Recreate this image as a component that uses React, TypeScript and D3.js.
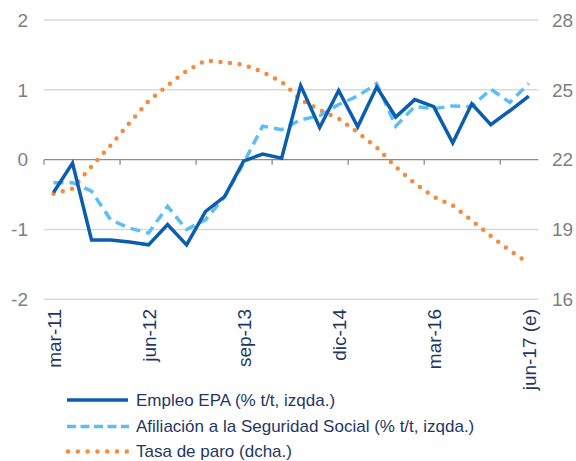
import React from "react";
import * as d3 from "d3";

const categories = [
  "mar-11", "jun-11", "sep-11", "dic-11",
  "mar-12", "jun-12", "sep-12", "dic-12",
  "mar-13", "jun-13", "sep-13", "dic-13",
  "mar-14", "jun-14", "sep-14", "dic-14",
  "mar-15", "jun-15", "sep-15", "dic-15",
  "mar-16", "jun-16", "sep-16", "dic-16",
  "mar-17", "jun-17 (e)",
];
const shownLabels = ["mar-11", "jun-12", "sep-13", "dic-14", "mar-16", "jun-17 (e)"];

const empleoEPA = [
  -0.47, -0.05, -1.15, -1.15, -1.18, -1.22, -0.93, -1.22, -0.74, -0.53,
  -0.02, 0.08, 0.02, 1.06, 0.46, 0.99, 0.47, 1.04, 0.61, 0.86,
  0.76, 0.24, 0.8, 0.5, 0.7, 0.91,
];
const afiliacion = [
  -0.33, -0.33, -0.45, -0.86, -0.98, -1.05, -0.67, -1.0, -0.86, -0.53,
  -0.05, 0.48, 0.43, 0.57, 0.63, 0.79, 0.91, 1.09, 0.48, 0.76,
  0.73, 0.77, 0.76, 1.01, 0.82, 1.09,
];
const tasaParo = [
  20.53, 20.76, 21.71, 22.61, 23.58, 24.52, 25.19, 25.81, 26.26, 26.18,
  26.08, 25.77, 25.34, 24.58, 24.14, 23.76, 23.17, 22.52, 21.69, 20.98,
  20.4, 20.03, 19.39, 18.72, 18.1, 17.54,
];
const leftTicks = [-2, -1, 0, 1, 2];
const rightTicks = [16, 19, 22, 25, 28];
const legendLabels = [
  "Empleo EPA (% t/t, izqda.)",
  "Afiliación a la Seguridad Social (% t/t, izqda.)",
  "Tasa de paro (dcha.)",
];

const W = 576;
const H = 461;
const FONT = "'Liberation Sans', Arial, sans-serif";
const C_EMPLEO = "#0B5DAE";
const C_AFIL = "#5BBEF6";
const C_TASA = "#F58B3C";
const TEXT_NAVY = "#1F3763";
const TEXT_GRAY = "#7F7F7F";

export default function App() {
  const x = d3.scalePoint<string>().domain(categories).range([44, 538.3]).padding(0.5);
  const step = x.step();
  const yL = d3.scaleLinear().domain([-2, 2]).range([299.3, 20]);
  const yR = d3.scaleLinear().domain([16, 28]).range([299.3, 20]);

  const lineL = d3
    .line<number>()
    .x((_, i) => x(categories[i]) as number)
    .y((d) => yL(d));
  const lineR = d3
    .line<number>()
    .x((_, i) => x(categories[i]) as number)
    .y((d) => yR(d));

  const tickIdx = categories.map((_, i) => i).filter((i) => i % 4 === 0);

  const legendY = [400, 426.5, 451.5];

  return (
    <svg
      width={W}
      height={H}
      style={{ position: "absolute", left: 0, top: 0, background: "#fff" }}
      fontFamily={FONT}
    >
      {/* gridlines */}
      {leftTicks
        .filter((t) => t !== 0)
        .map((t) => (
          <line key={t} x1={44} x2={538.3} y1={yL(t)} y2={yL(t)} stroke="#D9D9D9" strokeWidth={1.5} />
        ))}
      {/* zero axis */}
      <line x1={44} x2={538.3} y1={yL(0)} y2={yL(0)} stroke="#8C8C8C" strokeWidth={1.3} />
      {tickIdx.map((i) => {
        const tx = (x(categories[i]) as number) - step / 2;
        return <line key={i} x1={tx} x2={tx} y1={yL(0)} y2={yL(0) + 5} stroke="#8C8C8C" strokeWidth={1.3} />;
      })}

      {/* left ticks */}
      {leftTicks.map((t) => (
        <text key={t} x={28} y={yL(t)} dy="0.36em" textAnchor="end" fontSize={19} fill={TEXT_GRAY}>
          {t}
        </text>
      ))}
      {/* right ticks */}
      {rightTicks.map((t) => (
        <text key={t} x={552} y={yR(t)} dy="0.36em" textAnchor="start" fontSize={19} fill={TEXT_GRAY}>
          {t}
        </text>
      ))}

      {/* x labels */}
      {shownLabels.map((l) => {
        const lx = x(l) as number;
        return (
          <text
            key={l}
            transform={`translate(${lx + 7},309) rotate(-90)`}
            textAnchor="end"
            fontSize={19}
            fill={TEXT_NAVY}
          >
            {l}
          </text>
        );
      })}

      {/* series */}
      <path
        d={lineR(tasaParo) || ""}
        fill="none"
        stroke={C_TASA}
        strokeWidth={4.5}
        strokeDasharray="0 9.6"
        strokeLinecap="round"
      />
      <path
        d={lineL(afiliacion) || ""}
        fill="none"
        stroke={C_AFIL}
        strokeWidth={3.5}
        strokeDasharray="10 6"
      />
      <path
        d={lineL(empleoEPA) || ""}
        fill="none"
        stroke={C_EMPLEO}
        strokeWidth={3.5}
        strokeLinejoin="miter"
      />

      {/* legend */}
      <line x1={67} x2={128} y1={legendY[0]} y2={legendY[0]} stroke={C_EMPLEO} strokeWidth={3.5} />
      <line x1={67} x2={129} y1={legendY[1]} y2={legendY[1]} stroke={C_AFIL} strokeWidth={3.5} strokeDasharray="9 4.5" />
      <line
        x1={68}
        x2={128}
        y1={legendY[2]}
        y2={legendY[2]}
        stroke={C_TASA}
        strokeWidth={4.5}
        strokeDasharray="0 9.8"
        strokeLinecap="round"
      />
      {legendLabels.map((l, i) => (
        <text key={l} x={136} y={legendY[i]} dy="0.35em" fontSize={17} fill={TEXT_NAVY}>
          {l}
        </text>
      ))}
    </svg>
  );
}
